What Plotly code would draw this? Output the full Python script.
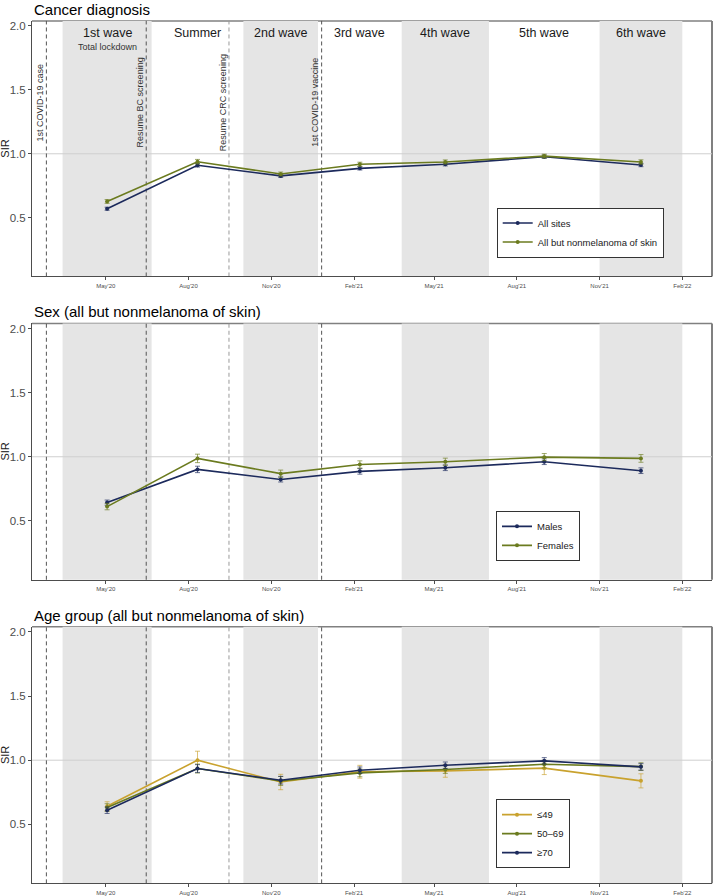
import pandas as pd
import plotly.graph_objects as go

# ---------------- data ----------------
period_names = ["1st wave", "Summer", "2nd wave", "3rd wave", "4th wave", "5th wave", "6th wave"]
period_start = ["2020-03-14", "2020-06-21", "2020-10-01", "2020-12-23", "2021-03-26", "2021-07-01", "2021-11-01"]
period_end = ["2020-06-21", "2020-10-01", "2020-12-23", "2021-03-26", "2021-07-01", "2021-11-01", "2022-02-01"]
period_shaded = [True, False, True, False, True, False, True]

event_dates = ["2020-02-25", "2020-06-15", "2020-09-15", "2020-12-27"]
event_labels = ["1st COVID-19 case", "Resume BC screening", "Resume CRC screening", "1st COVID-19 vaccine"]
event_colors = ["#555555", "#555555", "#9a9a9a", "#555555"]

tick_dates = ["2020-05-01", "2020-08-01", "2020-11-01", "2021-02-01",
              "2021-05-01", "2021-08-01", "2021-11-01", "2022-02-01"]
tick_labels = ["May'20", "Aug'20", "Nov'20", "Feb'21", "May'21", "Aug'21", "Nov'21", "Feb'22"]
y_ticks = [0.5, 1.0, 1.5, 2.0]

panel_titles = ["Cancer diagnosis", "Sex (all but nonmelanoma of skin)", "Age group (all but nonmelanoma of skin)"]

# Panel 1
sir_all_sites = [0.570, 0.910, 0.827, 0.886, 0.918, 0.977, 0.912]
err_all_sites = [0.012, 0.014, 0.012, 0.013, 0.013, 0.013, 0.013]
sir_no_nmsc = [0.627, 0.938, 0.842, 0.918, 0.936, 0.982, 0.936]
err_no_nmsc = [0.015, 0.018, 0.015, 0.016, 0.016, 0.015, 0.017]

# Panel 2
sir_males = [0.642, 0.901, 0.823, 0.886, 0.914, 0.961, 0.891]
err_males = [0.020, 0.025, 0.020, 0.022, 0.022, 0.022, 0.022]
sir_females = [0.611, 0.987, 0.868, 0.940, 0.961, 0.997, 0.987]
err_females = [0.025, 0.033, 0.028, 0.028, 0.028, 0.028, 0.030]

# Panel 3
sir_age_49 = [0.641, 1.000, 0.830, 0.910, 0.917, 0.938, 0.839]
err_age_49 = [0.035, 0.070, 0.060, 0.050, 0.050, 0.050, 0.055]
sir_age_50_69 = [0.631, 0.935, 0.838, 0.901, 0.927, 0.969, 0.950]
err_age_50_69 = [0.030, 0.035, 0.035, 0.030, 0.030, 0.030, 0.030]
sir_age_70 = [0.610, 0.935, 0.844, 0.922, 0.961, 0.995, 0.948]
err_age_70 = [0.025, 0.030, 0.030, 0.025, 0.025, 0.025, 0.025]

NAVY = "#1c2a5c"
OLIVE = "#6b7b1f"
GOLD = "#c9a22e"

# ---------------- derived ----------------
starts = pd.to_datetime(period_start)
ends = pd.to_datetime(period_end)
mids = starts + (ends - starts) / 2

W, H = 713, 896
ML, MR = 32, 1
panel_px = [(20, 277), (324.3, 582), (629.3, 887.3)]  # top, bottom in pixels
FONT = "Liberation Sans, Arial, Helvetica, sans-serif"

fig = go.Figure()

series = [
    [("All sites", sir_all_sites, err_all_sites, NAVY),
     ("All but nonmelanoma of skin", sir_no_nmsc, err_no_nmsc, OLIVE)],
    [("Males", sir_males, err_males, NAVY),
     ("Females", sir_females, err_females, OLIVE)],
    [("\u226449", sir_age_49, err_age_49, GOLD),
     ("50\u201369", sir_age_50_69, err_age_50_69, OLIVE),
     ("\u226570", sir_age_70, err_age_70, NAVY)],
]

def rgba(hexc, a):
    h = hexc.lstrip("#")
    return "rgba(%d,%d,%d,%.2f)" % (int(h[0:2], 16), int(h[2:4], 16), int(h[4:6], 16), a)

legend_names = ["legend", "legend2", "legend3"]
for p, group in enumerate(series):
    sfx = "" if p == 0 else str(p + 1)
    for name, vals, errs, col in group:
        fig.add_trace(go.Scatter(
            x=mids, y=vals, name=name, mode="lines+markers",
            xaxis="x" + sfx, yaxis="y" + sfx,
            line=dict(color=col, width=1.6),
            marker=dict(color=col, size=4),
            error_y=dict(type="data", array=errs, color=rgba(col, 0.65), thickness=1, width=2.5),
            legend=legend_names[p],
        ))

shapes = []
annotations = []
layout = dict(
    width=W, height=H, autosize=False,
    margin=dict(l=ML, r=MR, t=0, b=0),
    paper_bgcolor="white", plot_bgcolor="white",
    font=dict(family=FONT, color="#1a1a1a"),
    showlegend=True,
)

xrange = ["2020-02-09", "2022-03-06"]
for p in range(3):
    sfx = "" if p == 0 else str(p + 1)
    top, bot = panel_px[p]
    dom = [1 - bot / H, 1 - top / H]
    layout["xaxis" + sfx] = dict(
        domain=[0, 1], anchor="y" + sfx, type="date", range=xrange,
        tickvals=tick_dates, ticktext=tick_labels,
        tickfont=dict(size=6, color="#4d4d4d"),
        ticks="outside", ticklen=3, tickcolor="#4d4d4d",
        showgrid=False, zeroline=False,
        showline=True, linecolor="#4d4d4d", linewidth=1,
    )
    layout["yaxis" + sfx] = dict(
        domain=dom, anchor="x" + sfx, range=[0.04, 2.04],
        tickvals=y_ticks, tickformat=".1f",
        tickfont=dict(size=11.5, color="#4d4d4d"),
        ticks="outside", ticklen=3, tickcolor="#4d4d4d",
        showgrid=False, zeroline=False,
        showline=True, linecolor="#4d4d4d", linewidth=1,
    )
    xr, yr = "x" + sfx, "y" + sfx
    # top / right borders
    shapes.append(dict(type="line", xref=xr + " domain", yref=yr + " domain",
                       x0=0, x1=1, y0=1, y1=1, line=dict(color="#808080", width=1.5), layer="below"))
    shapes.append(dict(type="line", xref=xr + " domain", yref=yr + " domain",
                       x0=1, x1=1, y0=0, y1=1, line=dict(color="#808080", width=2), layer="below"))
    # shading
    for s, e, sh in zip(period_start, period_end, period_shaded):
        if sh:
            shapes.append(dict(type="rect", xref=xr, yref=yr + " domain",
                               x0=s, x1=e, y0=0, y1=1,
                               fillcolor="#e5e5e5", line=dict(width=0), layer="below"))
    # reference line
    shapes.append(dict(type="line", xref=xr + " domain", yref=yr, x0=0, x1=1, y0=1, y1=1,
                       line=dict(color="#cfcfcf", width=1), layer="below"))
    # events
    for d, c in zip(event_dates, event_colors):
        shapes.append(dict(type="line", xref=xr, yref=yr + " domain", x0=d, x1=d, y0=0, y1=1,
                           line=dict(color=c, width=1, dash="4px,3px"), layer="below"))
    # title
    annotations.append(dict(text=panel_titles[p], xref="paper", x=0, xanchor="left",
                            yref=yr + " domain", y=1, yanchor="middle", yshift=11.5,
                            showarrow=False, font=dict(size=15, color="#000000")))
    # SIR label
    annotations.append(dict(text="SIR", xref="paper", x=0, xanchor="center", xshift=-27,
                            yref=yr + " domain", y=0.5, yanchor="middle", textangle=-90,
                            showarrow=False, font=dict(size=11, color="#1a1a1a")))

# panel 1 extras
for nm, mid in zip(period_names, mids):
    annotations.append(dict(text=nm, xref="x", x=mid, xanchor="center",
                            yref="y domain", y=1, yanchor="middle", yshift=-12.3,
                            showarrow=False, font=dict(size=12.5, color="#1a1a1a")))
annotations.append(dict(text="Total lockdown", xref="x", x=mids[0], xanchor="center",
                        yref="y domain", y=1, yanchor="middle", yshift=-25.7,
                        showarrow=False, font=dict(size=9, color="#333333")))
for d, lab in zip(event_dates, event_labels):
    annotations.append(dict(text=lab, xref="x", x=d, xanchor="center", xshift=-6.5,
                            yref="y", y=1.4, yanchor="middle", textangle=-90,
                            showarrow=False, font=dict(size=9, color="#333333")))

legend_pos = [((496.7 - ML) / (W - ML - MR), 1 - 258.0 / H),
              ((496.0 - ML) / (W - ML - MR), 1 - 563.0 / H),
              ((496.0 - ML) / (W - ML - MR), 1 - 872.0 / H)]
for ln, (lx, ly) in zip(legend_names, legend_pos):
    layout[ln] = dict(x=lx, y=ly, xanchor="left", yanchor="bottom",
                      bgcolor="white", bordercolor="#333333", borderwidth=1,
                      font=dict(size=9.5, color="#1a1a1a"), tracegroupgap=0,
                      itemwidth=30)

layout["shapes"] = shapes
layout["annotations"] = annotations
fig.update_layout(**layout)

fig.write_html(
    "out.html",
    config={"displayModeBar": False},
    post_script="document.body.style.margin='0';document.body.style.overflow='hidden';",
)
